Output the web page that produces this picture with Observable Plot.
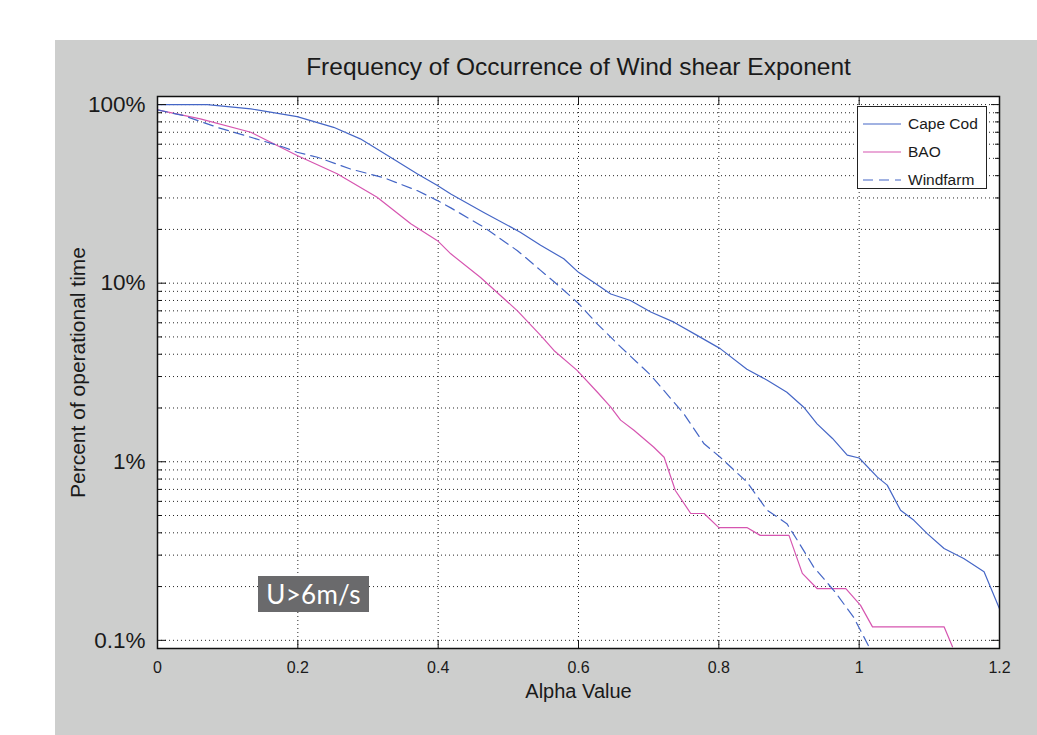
<!DOCTYPE html>
<html><head><meta charset="utf-8">
<script src="https://cdn.jsdelivr.net/npm/d3@7"></script>
<script src="https://cdn.jsdelivr.net/npm/@observablehq/plot@0.6"></script>
<style>
body{margin:0;background:#fff;}
#wrap{position:relative;width:1037px;height:735px;overflow:hidden;font-family:"Liberation Sans",Arial,sans-serif;}
#panel{position:absolute;left:55px;top:40px;width:982px;height:695px;background:#cdcecd;}
#chart{position:absolute;left:0;top:0;}
#legend{position:absolute;left:857px;top:106px;width:128px;height:81px;background:#fff;border:1px solid #222;}
#legend .row{position:absolute;left:0;height:20px;width:128px;}
#legend svg{position:absolute;left:5px;top:0;}
#legend span{position:absolute;left:50px;top:1px;font-size:15.5px;color:#1a1a1a;line-height:18px;}
#note{position:absolute;left:258px;top:576px;width:111px;height:36px;background:#6a6a6c;color:#fff;font-family:Lato,"Open Sans",sans-serif;font-size:26px;line-height:36px;text-align:center;letter-spacing:0.3px;}
</style></head>
<body>
<div id="wrap"><div id="panel"></div><div id="chart"></div><div id="legend"></div><div id="note">U&gt;6m/s</div></div>
<script>
// ---- data ----
const capeAlpha = [0, 0.071, 0.133, 0.199, 0.251, 0.289, 0.332, 0.370, 0.399, 0.418, 0.465, 0.517, 0.546, 0.579, 0.600, 0.622, 0.646, 0.674, 0.703, 0.736, 0.769, 0.802, 0.840, 0.869, 0.897, 0.921, 0.940, 0.962, 0.983, 1.000, 1.026, 1.040, 1.059, 1.078, 1.097, 1.121, 1.149, 1.178, 1.2];
const capePct   = [100, 100, 94.6, 85.7, 74.6, 64.3, 50.7, 41, 35.2, 31.6, 24.9, 19.3, 16.3, 13.7, 11.5, 10.1, 8.7, 8.0, 6.9, 6.05, 5.1, 4.3, 3.3, 2.86, 2.45, 2.02, 1.63, 1.35, 1.09, 1.05, 0.82, 0.74, 0.535, 0.47, 0.396, 0.327, 0.287, 0.242, 0.15];

const baoAlpha = [0, 0.061, 0.133, 0.199, 0.256, 0.313, 0.361, 0.399, 0.418, 0.460, 0.513, 0.546, 0.565, 0.598, 0.627, 0.646, 0.660, 0.679, 0.707, 0.722, 0.738, 0.760, 0.779, 0.800, 0.840, 0.859, 0.900, 0.919, 0.940, 0.981, 1.002, 1.019, 1.121, 1.133];
const baoPct   = [93.4, 83.2, 70, 51.9, 41, 30.3, 21.5, 17.3, 14.6, 10.8, 7.0, 5.1, 4.2, 3.25, 2.45, 2.02, 1.71, 1.5, 1.21, 1.06, 0.69, 0.513, 0.513, 0.428, 0.428, 0.387, 0.387, 0.237, 0.195, 0.195, 0.157, 0.119, 0.119, 0.092];

const windAlpha = [0, 0.037, 0.085, 0.133, 0.18, 0.199, 0.228, 0.275, 0.323, 0.370, 0.399, 0.418, 0.465, 0.513, 0.546, 0.574, 0.600, 0.627, 0.660, 0.703, 0.750, 0.779, 0.802, 0.840, 0.869, 0.897, 0.912, 0.935, 0.964, 0.992, 1.014];
const windPct   = [93.4, 86.8, 74.6, 65.6, 57.7, 54.1, 50.7, 43.6, 38.9, 33, 29, 26.4, 20.6, 15.2, 11.8, 9.5, 7.7, 5.9, 4.4, 3.05, 1.86, 1.26, 1.06, 0.77, 0.535, 0.45, 0.363, 0.258, 0.19, 0.135, 0.092];

const seriesNames = ["Cape Cod", "BAO", "Windfarm"];
const seriesColors = ["#4566c6", "#d655b0", "#4566c6"];
const seriesDash = [null, null, "10,6"];

const yMajor = [0.1, 1, 10, 100];
const yMinor = [0.2,0.3,0.4,0.5,0.6,0.7,0.8,0.9, 2,3,4,5,6,7,8,9, 20,30,40,50,60,70,80,90];
const xTicks = [0, 0.2, 0.4, 0.6, 0.8, 1, 1.2];
const xInner = [0.2, 0.4, 0.6, 0.8, 1];

const titleText = "Frequency of Occurrence of Wind shear Exponent";
const xLabel = "Alpha Value";
const yLabel = "Percent of operational time";

// ---- build ----
const toRows = (a, p) => a.map((v, i) => ({alpha: v, pct: p[i]}));
const series = [toRows(capeAlpha, capePct), toRows(baoAlpha, baoPct), toRows(windAlpha, windPct)];

const dotted = {stroke: "#000", strokeOpacity: 0.85, strokeDasharray: "1,3", strokeWidth: 1};

const chart = Plot.plot({
  width: 1037, height: 735,
  marginLeft: 157, marginRight: 38, marginTop: 96, marginBottom: 87,
  style: {background: "transparent", fontFamily: "'Liberation Sans', Arial, sans-serif", color: "#1a1a1a"},
  x: {domain: [0, 1.2], label: null},
  y: {type: "log", domain: [0.09, 111], label: null},
  marks: [
    Plot.frame({fill: "white", stroke: null}),
    Plot.gridX(xInner, dotted),
    Plot.gridY([...yMajor, ...yMinor], dotted),
    ...series.map((rows, i) => Plot.line(rows, {x: "alpha", y: "pct", stroke: seriesColors[i], strokeWidth: 1.2, strokeDasharray: seriesDash[i], clip: true})),
    Plot.axisY(yMajor, {anchor: "left", tickSize: -9, text: null, label: null, stroke: "#111"}),
    Plot.axisY(yMajor, {anchor: "right", tickSize: -9, text: null, label: null, stroke: "#111"}),
    Plot.axisY(yMinor, {anchor: "left", tickSize: -5, text: null, label: null, stroke: "#111"}),
    Plot.axisY(yMinor, {anchor: "right", tickSize: -5, text: null, label: null, stroke: "#111"}),
    Plot.axisX(xInner, {anchor: "bottom", tickSize: -8, text: null, label: null, stroke: "#111"}),
    Plot.axisX(xInner, {anchor: "top", tickSize: -8, text: null, label: null, stroke: "#111"}),
    Plot.axisY(yMajor, {anchor: "left", tickSize: 0, tickPadding: 12, tickFormat: d => d + "%", fontSize: 22.5, label: null}),
    Plot.axisX(xTicks, {anchor: "bottom", tickSize: 0, tickPadding: 13, tickFormat: d => String(d), fontSize: 16, label: null}),
    Plot.frame({stroke: "#111", strokeWidth: 1.5}),
    Plot.text([titleText], {frameAnchor: "top", lineAnchor: "middle", dy: -29, fontSize: 24.5, fill: "#1a1a1a"}),
    Plot.text([xLabel], {frameAnchor: "bottom", lineAnchor: "middle", dy: 43, fontSize: 20, fill: "#1a1a1a"}),
    Plot.text([yLabel], {frameAnchor: "left", textAnchor: "middle", lineAnchor: "middle", dx: -79, rotate: -90, fontSize: 21, fill: "#1a1a1a"})
  ]
});
document.getElementById("chart").appendChild(chart);

// legend
const legend = document.getElementById("legend");
seriesNames.forEach((name, i) => {
  const row = document.createElement("div");
  row.className = "row";
  row.style.top = (7 + i * 28) + "px";
  const dash = seriesDash[i] ? `stroke-dasharray="${seriesDash[i]}"` : "";
  row.innerHTML = `<svg width="40" height="20"><line x1="0" x2="38" y1="10" y2="10" stroke="${seriesColors[i]}" stroke-width="1.2" ${dash}/></svg><span>${name}</span>`;
  legend.appendChild(row);
});
</script>
</body></html>
